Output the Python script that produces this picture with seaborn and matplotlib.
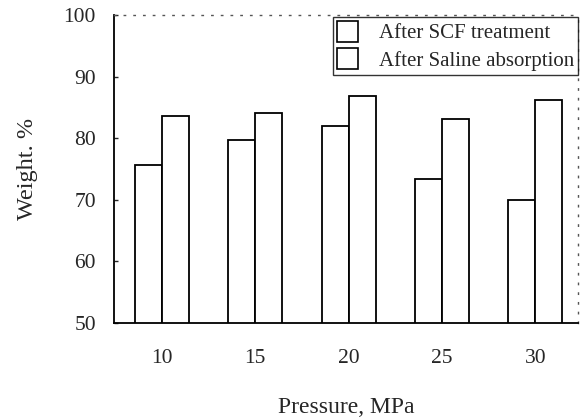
import matplotlib
matplotlib.use("Agg")
import matplotlib.pyplot as plt
import seaborn as sns
import pandas as pd
from matplotlib.patches import Patch

pressures = ["10", "15", "20", "25", "30"]
scf_treatment = [75.7, 79.7, 82.0, 73.4, 70.0]
saline_absorption = [83.6, 84.1, 86.9, 83.2, 86.2]
series_names = ["After SCF treatment", "After Saline absorption"]
y_ticks = [50, 60, 70, 80, 90, 100]

df = pd.DataFrame({
    "Pressure": pressures * 2,
    "Weight": scf_treatment + saline_absorption,
    "Series": [series_names[0]] * len(pressures) + [series_names[1]] * len(pressures),
})

sns.set_style("white")
plt.rcParams["font.family"] = ["Liberation Serif", "DejaVu Serif"]

fig = plt.figure(figsize=(5.84, 4.20), dpi=100)
ax = fig.add_axes([0.195, 0.231, 0.795, 0.733])

sns.barplot(data=df, x="Pressure", y="Weight", hue="Series", order=pressures,
            hue_order=series_names, palette=["white", "white"], width=0.58,
            edgecolor="black", linewidth=1.3, ax=ax, legend=False, errorbar=None,
            saturation=1)

ax.set_ylim(50, 100)
ax.set_xlim(-0.515, 4.46)
ax.set_yticks(y_ticks)
ax.set_yticklabels([str(v) for v in y_ticks], fontsize=15.5)
ax.tick_params(axis="y", direction="in", length=3, width=1, pad=13, left=True)
ax.tick_params(axis="x", length=0, pad=19, labelsize=15.5)

ax.set_xlabel("Pressure, MPa", fontsize=17)
ax.set_ylabel("Weight. %", fontsize=17.5)
ax.xaxis.set_label_coords(0.5, -0.275)
ax.yaxis.set_label_coords(-0.187, 0.5)
ax.xaxis.label.set_va("center")
ax.yaxis.label.set_va("center")

for side in ["left", "bottom"]:
    ax.spines[side].set_visible(True)
    ax.spines[side].set_color("black")
    ax.spines[side].set_linewidth(1.3)
for side in ["top", "right"]:
    ax.spines[side].set_visible(True)
    ax.spines[side].set_color("#555555")
    ax.spines[side].set_linewidth(1.0)
    ax.spines[side].set_linestyle((0, (1, 6)))

handles = [Patch(facecolor="white", edgecolor="black", linewidth=1.2) for _ in series_names]
leg = ax.legend(handles, series_names, loc="upper right", bbox_to_anchor=(1.0, 0.995),
                fontsize=15, frameon=True, fancybox=False, edgecolor="black",
                handlelength=1.0, handleheight=1.15, handletextpad=1.0,
                borderpad=0.2, labelspacing=0.25, borderaxespad=0.0)
leg.get_frame().set_linewidth(1.0)

fig.savefig("out.png", dpi=100)
